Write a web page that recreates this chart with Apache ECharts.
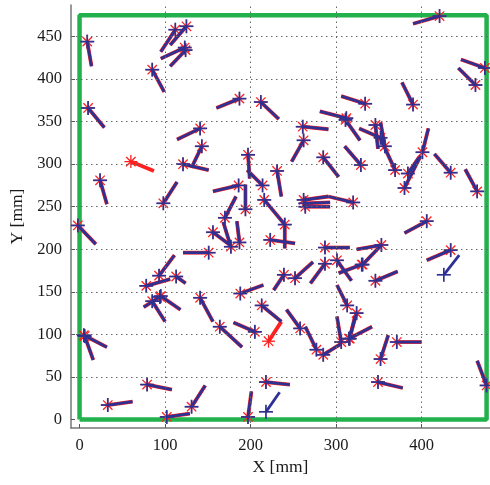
<!DOCTYPE html>
<html>
<head>
<meta charset="utf-8">
<script src="https://cdn.jsdelivr.net/npm/echarts@6/dist/echarts.min.js"></script>
<style>
  html,body{margin:0;padding:0;background:#fff;}
  .main{width:490px;height:485px;}
</style>
</head>
<body>
<div class="main"></div>
<script>
// each pose: [x, y, headingEndX, headingEndY] in mm
// poses where true (red *) and estimated (blue +) coincide
var matched = [
  [9,444,14,415],[112,458,95,432],[125,462,106,440],[123,437,95,424],[124,434,106,415],
  [85,411,99,385],[10,366,29,343],[141,342,114,329],[143,321,131,296],[121,300,151,293],
  [187,377,160,366],[212,373,233,353],[261,344,291,341],[262,328,248,303],[312,354,281,362],
  [311,352,328,328],[334,371,306,380],[346,346,349,318],[357,321,352,349],[369,293,352,330],
  [352,331,327,342],[329,299,310,321],[390,370,377,396],[421,474,390,465],[474,413,446,423],
  [463,393,443,413],[401,314,408,342],[380,272,399,310],[384,289,397,308],[434,290,415,312],
  [465,268,451,294],[320,255,291,262],[262,258,291,262],[264,250,293,250],[264,254,293,255],
  [406,233,380,219],[353,205,324,200],[331,182,353,205],[330,182,303,172],[346,163,372,174],
  [434,199,406,187],[287,202,316,202],[287,183,270,160],[301,187,318,163],[252,166,273,185],
  [239,170,227,152],[223,211,252,207],[240,229,240,201],[216,258,240,229],[197,311,199,283],
  [214,275,196,293],[231,292,236,262],[186,275,156,268],[194,247,194,276],[170,237,183,262],
  [156,220,176,205],[177,203,168,232],[187,208,184,233],[285,308,303,285],[98,254,114,279],
  [24,281,32,253],[-2,228,19,206],[151,196,121,196],[93,169,111,193],[113,168,124,160],
  [78,157,106,165],[85,139,100,115],[95,145,118,129],[94,144,75,132],[141,143,156,115],
  [5,99,32,85],[6,98,16,70],[79,41,108,35],[33,17,62,21],[131,15,147,40],
  [102,3,129,7],[164,109,190,85],[205,103,180,114],[188,148,215,158],[213,134,236,115],
  [258,107,242,129],[277,82,264,109],[285,76,306,89],[306,91,301,121],[313,134,301,158],
  [316,95,322,121],[324,125,316,97],[315,95,342,109],[371,91,400,91],[352,71,361,99],
  [349,44,378,37],[476,40,465,69],[218,44,246,41],[197,3,201,33]
];
// only the true pose is shown
var trueOnly = [[60,303,87,292],[221,92,236,115]];
// only the estimate is shown
var estOnly = [[218,9,234,32],[426,170,444,193]];

// arena border
var arenaX = [0,476,476,0,0];
var arenaY = [0,0,475,475,0];

var xTicks = [0,100,200,300,400];
var yTicks = [0,50,100,150,200,250,300,350,400,450];
var xGrid = [100,200,300,400];
var yGrid = [50,100,150,200,250,300,350,400,450];

var RED = '#ff2020';
var BLUE = '#2e3192';

function drawPose(color, lw, kind){
  return function(params, api){
    var p = api.coord([api.value(0), api.value(1)]);
    var e = api.coord([api.value(2), api.value(3)]);
    var kids = [{
      type:'line',
      shape:{x1:p[0],y1:p[1],x2:e[0],y2:e[1]},
      style:{stroke:color,lineWidth:lw,lineCap:'butt'}
    }];
    var r = 6.5, arms;
    if(kind === 'star'){
      var d = r*0.72;
      arms = [[-r,0,r,0],[0,-r,0,r],[-d,-d,d,d],[-d,d,d,-d]];
    } else {
      r = 7;
      arms = [[-r,0,r,0],[0,-r,0,r]];
    }
    arms.forEach(function(a){
      kids.push({
        type:'line',
        shape:{x1:p[0]+a[0],y1:p[1]+a[1],x2:p[0]+a[2],y2:p[1]+a[3]},
        style:{stroke:color,lineWidth:kind==='star'?1.3:1.7}
      });
    });
    return {type:'group',children:kids};
  };
}

var myChart = echarts.init(document.querySelector('.main'));

var axisFont = {fontFamily:'Liberation Serif',fontSize:16.5,color:'#1a1a1a'};
var nameFont = {fontFamily:'Liberation Serif',fontSize:17.5,color:'#1a1a1a'};

var option = {
  animation:false,
  grid:{left:71,right:0,top:5,bottom:57},
  xAxis:{
    type:'value',min:-10,max:480,
    name:'X [mm]',nameLocation:'middle',nameGap:26,
    nameTextStyle:nameFont,
    axisLine:{onZero:false,lineStyle:{color:'#777',width:1.5}},
    axisTick:{inside:true,length:4,customValues:xTicks,lineStyle:{color:'#555'}},
    axisLabel:Object.assign({customValues:xTicks,margin:9},axisFont),
    splitLine:{show:false}
  },
  yAxis:{
    type:'value',min:-10,max:487,
    name:'Y [mm]',nameLocation:'middle',nameGap:44,
    nameTextStyle:nameFont,
    axisLine:{onZero:false,lineStyle:{color:'#777',width:1.5}},
    axisTick:{inside:true,length:4,customValues:yTicks,lineStyle:{color:'#555'}},
    axisLabel:Object.assign({customValues:yTicks,margin:9},axisFont),
    splitLine:{show:false}
  },
  series:[
    {
      type:'line',
      data:arenaX.map(function(x,i){return [x,arenaY[i]];}),
      symbol:'none',
      lineStyle:{color:'#22b14c',width:4.5},
      z:1,
      markLine:{
        silent:true,symbol:'none',label:{show:false},
        lineStyle:{color:'#666',width:1,type:[1.5,3.5]},
        data:xGrid.map(function(v){return {xAxis:v};})
          .concat(yGrid.map(function(v){return {yAxis:v};}))
      }
    },
    {type:'custom',renderItem:drawPose(RED,3.8,'star'),data:matched.concat(trueOnly),z:3},
    {type:'custom',renderItem:drawPose(BLUE,2.8,'plus'),data:matched.concat(estOnly),z:4}
  ]
};
myChart.setOption(option);
</script>
</body>
</html>
